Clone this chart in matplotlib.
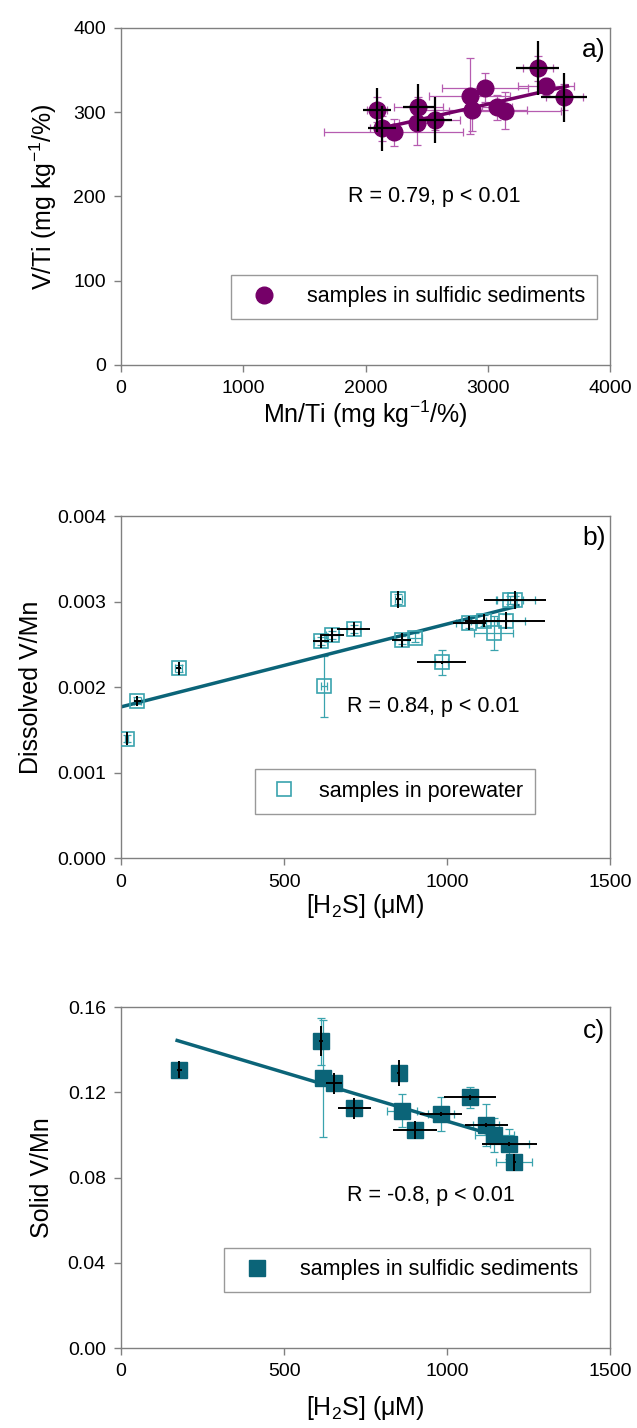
import numpy as np
import matplotlib
matplotlib.use("Agg")
import matplotlib.pyplot as plt

plt.rcParams['font.family'] = ['Liberation Sans', 'DejaVu Sans']
plt.rcParams['mathtext.default'] = 'regular'
plt.rcParams['font.size'] = 14

# ---- panel a: V/Ti vs Mn/Ti (sulfidic sediments)
a_x = [2092, 2132, 2228, 2432, 2424, 2569, 2850, 2868, 2978, 3073, 3141, 3408, 3474, 3624]
a_y = [303, 281, 276, 306, 287, 291, 319, 303, 329, 306, 302, 352, 331, 318]
a_xerr = [80, 100, 567, 200, 150, 200, 330, 450, 350, 120, 460, 120, 231, 150]
a_yerr = [15, 15, 16, 12, 26, 12, 45, 25, 17, 15, 22, 15, 10, 15]
# black crosses (second uncertainty) on a subset
a_bx = [2092, 2132, 2432, 2569, 3408, 3624]
a_by = [303, 281, 306, 291, 352, 318]
a_bxerr = [112, 113, 123, 137, 177, 188]
a_byerr = [26, 27, 28, 27, 32, 29]
a_fit_x = [2100, 3650]
a_fit_y = [280, 331]

# ---- panel b: dissolved V/Mn vs H2S (porewater)
b_x = [17, 50, 177, 613, 622, 648, 713, 850, 860, 902, 984, 1068, 1114, 1143, 1180, 1192, 1209]
b_y = [0.00140, 0.00184, 0.00222, 0.00254, 0.00201, 0.00261, 0.00268, 0.00303, 0.00255, 0.00258,
       0.00229, 0.00275, 0.00278, 0.00263, 0.00278, 0.00302, 0.00302]
b_yerr = [0.00004, 0.00004, 0.00004, 0.00005, 0.00036, 0.00005, 0.00005, 0.00006, 0.00005, 0.00005,
          0.00015, 0.00006, 0.00006, 0.00020, 0.00008, 0.00005, 0.00005]
b_xerr = [5, 10, 10, 20, 10, 20, 20, 10, 20, 20, 20, 40, 40, 60, 60, 40, 60]
b_bx = [17, 50, 177, 613, 648, 713, 850, 860, 984, 1068, 1114, 1180, 1209]
b_by = [0.00140, 0.00184, 0.00222, 0.00254, 0.00261, 0.00268, 0.00303, 0.00255, 0.00229,
        0.00275, 0.00278, 0.00278, 0.00302]
b_bxerr = [2, 10, 8, 25, 35, 50, 8, 30, 75, 50, 60, 120, 95]
b_byerr = [0.00008, 0.00006, 0.00008, 0.00008, 0.00008, 0.00008, 0.00010, 0.00008, 0.00002,
           0.00008, 0.00008, 0.00010, 0.00010]
b_fit_x = [0, 1217]
b_fit_y = [0.00177, 0.00295]

# ---- panel c: solid V/Mn vs H2S (sulfidic sediments)
c_x = [179, 613, 619, 652, 715, 851, 861, 902, 981, 1069, 1120, 1144, 1191, 1206]
c_y = [0.1305, 0.1439, 0.1266, 0.1242, 0.1125, 0.1290, 0.1114, 0.1023, 0.1098, 0.1176,
       0.1048, 0.1001, 0.0957, 0.0871]
c_yerr = [0.002, 0.011, 0.0275, 0.003, 0.002, 0.002, 0.0078, 0.003, 0.0078, 0.005,
          0.0098, 0.008, 0.007, 0.003]
c_xerr = [10, 10, 10, 20, 20, 10, 45, 20, 40, 20, 40, 60, 60, 55]
c_bx = [179, 613, 652, 715, 851, 902, 981, 1069, 1120, 1191, 1206]
c_by = [0.1305, 0.1439, 0.1242, 0.1125, 0.1290, 0.1023, 0.1098, 0.1176, 0.1048, 0.0957, 0.0871]
c_bxerr = [8, 5, 25, 50, 5, 67, 65, 80, 65, 85, 5]
c_byerr = [0.004, 0.007, 0.005, 0.005, 0.006, 0.004, 0.001, 0.001, 0.001, 0.001, 0.004]
c_fit_x = [172, 1193]
c_fit_y = [0.1443, 0.0976]

purple = '#750068'
purple_err = '#b65cb0'
teal = '#0b6478'
teal_light = '#3aa3ae'
spine_col = '#808080'
lab_fs = 18
note_fs = 15.5


def style_axes(ax):
    for s in ax.spines.values():
        s.set_color(spine_col)
        s.set_linewidth(1.0)
    ax.tick_params(direction='out', color=spine_col, length=5, width=1, labelsize=14, pad=6)


fig = plt.figure(figsize=(6.37, 14.28), dpi=100)
ax_a = fig.add_axes([0.190, 0.7444, 0.768, 0.236])
ax_b = fig.add_axes([0.190, 0.3990, 0.768, 0.2395])
ax_c = fig.add_axes([0.190, 0.0560, 0.768, 0.2388])

# panel a
ax_a.errorbar(a_x, a_y, xerr=a_xerr, yerr=a_yerr, fmt='none', ecolor=purple_err,
              elinewidth=0.9, capsize=3, capthick=0.9, zorder=1)
ax_a.plot(a_fit_x, a_fit_y, color=purple, lw=2.5, zorder=2)
ax_a.plot(a_x, a_y, 'o', color=purple, ms=12, ls='none', zorder=3,
          label='samples in sulfidic sediments')
ax_a.errorbar(a_bx, a_by, xerr=a_bxerr, yerr=a_byerr, fmt='none', ecolor='black',
              elinewidth=1.6, capsize=0, zorder=4)
ax_a.set_xlim(0, 4000)
ax_a.set_ylim(0, 400)
ax_a.set_xticks([0, 1000, 2000, 3000, 4000])
ax_a.set_yticks([0, 100, 200, 300, 400])
ax_a.set_xlabel('Mn/Ti (mg kg$^{-1}$/%)', fontsize=lab_fs, labelpad=1)
ax_a.set_ylabel('V/Ti (mg kg$^{-1}$/%)', fontsize=lab_fs, labelpad=10)
ax_a.text(0.64, 0.5, 'R = 0.79, p < 0.01', transform=ax_a.transAxes, ha='center', va='center', fontsize=note_fs)
ax_a.text(0.99, 0.935, 'a)', transform=ax_a.transAxes, ha='right', va='center', fontsize=19)
ax_a.legend(loc='center', bbox_to_anchor=(0.599, 0.202), frameon=True, fancybox=False,
            edgecolor=spine_col, fontsize=note_fs, handletextpad=1.0, borderpad=0.55, markerscale=1.0)
style_axes(ax_a)

# panel b
ax_b.errorbar(b_x, b_y, xerr=b_xerr, yerr=b_yerr, fmt='none', ecolor=teal_light,
              elinewidth=0.9, capsize=3, capthick=0.9, zorder=1)
ax_b.plot(b_fit_x, b_fit_y, color=teal, lw=2.5, zorder=2)
ax_b.plot(b_x, b_y, 's', mfc='none', mec=teal_light, mew=1.2, ms=10.5, ls='none', zorder=3,
          label='samples in porewater')
ax_b.errorbar(b_bx, b_by, xerr=b_bxerr, yerr=b_byerr, fmt='none', ecolor='black',
              elinewidth=1.4, capsize=0, zorder=4)
ax_b.set_xlim(0, 1500)
ax_b.set_ylim(0, 0.004)
ax_b.set_xticks([0, 500, 1000, 1500])
ax_b.set_yticks([0, 0.001, 0.002, 0.003, 0.004])
ax_b.set_yticklabels(['0.000', '0.001', '0.002', '0.003', '0.004'])
ax_b.set_xlabel('[H$_2$S] (μM)', fontsize=lab_fs, labelpad=1)
ax_b.set_ylabel('Dissolved V/Mn', fontsize=lab_fs, labelpad=10)
ax_b.text(0.638, 0.444, 'R = 0.84, p < 0.01', transform=ax_b.transAxes, ha='center', va='center', fontsize=note_fs)
ax_b.text(0.99, 0.935, 'b)', transform=ax_b.transAxes, ha='right', va='center', fontsize=19)
ax_b.legend(loc='center', bbox_to_anchor=(0.56, 0.196), frameon=True, fancybox=False,
            edgecolor=spine_col, fontsize=note_fs, handletextpad=0.8, borderpad=0.55, handlelength=1.6)
style_axes(ax_b)

# panel c
ax_c.errorbar(c_x, c_y, xerr=c_xerr, yerr=c_yerr, fmt='none', ecolor=teal_light,
              elinewidth=0.9, capsize=3, capthick=0.9, zorder=1)
ax_c.plot(c_fit_x, c_fit_y, color=teal, lw=2.5, zorder=2)
ax_c.plot(c_x, c_y, 's', color=teal, ms=11.5, ls='none', zorder=3,
          label='samples in sulfidic sediments')
ax_c.errorbar(c_bx, c_by, xerr=c_bxerr, yerr=c_byerr, fmt='none', ecolor='black',
              elinewidth=1.4, capsize=0, zorder=4)
ax_c.set_xlim(0, 1500)
ax_c.set_ylim(0, 0.16)
ax_c.set_xticks([0, 500, 1000, 1500])
ax_c.set_yticks([0, 0.04, 0.08, 0.12, 0.16])
ax_c.set_yticklabels(['0.00', '0.04', '0.08', '0.12', '0.16'])
ax_c.set_xlabel('[H$_2$S] (μM)', fontsize=lab_fs, labelpad=10)
ax_c.set_ylabel('Solid V/Mn', fontsize=lab_fs, labelpad=10)
ax_c.text(0.633, 0.446, 'R = -0.8, p < 0.01', transform=ax_c.transAxes, ha='center', va='center', fontsize=note_fs)
ax_c.text(0.99, 0.93, 'c)', transform=ax_c.transAxes, ha='right', va='center', fontsize=19)
ax_c.legend(loc='center', bbox_to_anchor=(0.585, 0.229), frameon=True, fancybox=False,
            edgecolor=spine_col, fontsize=note_fs, handletextpad=1.0, borderpad=0.55)
style_axes(ax_c)

fig.savefig('out.png', dpi=100)
